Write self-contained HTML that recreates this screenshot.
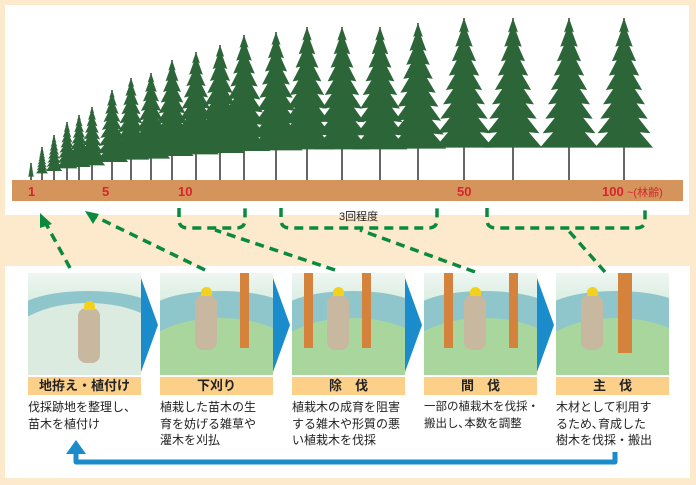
<!DOCTYPE html>
<html><head><meta charset="utf-8"><style>
body{margin:0;width:696px;height:485px;background:#fde9cc;position:relative;overflow:hidden;font-family:"Liberation Sans","Noto Sans CJK JP",sans-serif}
.wp{position:absolute;background:#fff}
.lab{position:absolute;top:377px;height:18px;width:113px;background:#fdd08a;font-weight:bold;font-size:13px;text-align:center;line-height:18px;color:#222}
.txt{position:absolute;top:399px;width:130px;font-size:12px;line-height:16.5px;color:#222;white-space:nowrap}
.pic{position:absolute;top:273px;width:113px;height:102px;background:linear-gradient(#eef6f2 0%,#d6ecde 35%,#a6d49e 100%);overflow:hidden}
.hill{position:absolute;left:-10px;top:18px;width:140px;height:40px;background:#8fc6cc;border-radius:50% 50% 0 0}
.gr{position:absolute;left:-20px;top:45px;width:160px;height:80px;background:#a9d69c;border-radius:50% 50% 0 0}
.tr{position:absolute;top:0;width:9px;height:75px;background:#d4823c}
.man{position:absolute;width:22px;height:55px;background:#c9b8a0;border-radius:8px;top:22px}
.hat{position:absolute;width:11px;height:9px;background:#f2d21c;border-radius:6px 6px 0 0;top:14px}
.chev{position:absolute;top:278px;width:0;height:0;border-top:47px solid transparent;border-bottom:47px solid transparent;border-left:17px solid #1a8ccc}
</style></head><body>
<div class="wp" style="left:5px;top:5px;width:684px;height:210px"></div>
<div class="wp" style="left:5px;top:266px;width:685px;height:212px"></div>
<svg width="696" height="485" style="position:absolute;left:0;top:0">
<g id="trees"></g>
<rect x="12" y="180" width="671" height="21" fill="#d4945c"/>
<g fill="#d6252e" font-weight="bold" font-size="13" font-family="Liberation Sans,sans-serif">
<text x="28" y="196">1</text><text x="102" y="196">5</text><text x="178" y="196">10</text><text x="457" y="196">50</text><text x="602" y="196">100</text>
<text x="627" y="196" font-weight="normal" font-size="11" font-family="Liberation Sans,Noto Sans CJK JP,sans-serif">~(林齢)</text></g>
<text x="339" y="220" font-size="11" fill="#222" font-family="Liberation Sans,Noto Sans CJK JP,sans-serif">3回程度</text>
<g fill="none" stroke="#0a8a3e" stroke-width="3.5" stroke-dasharray="9,6">
<path d="M179 208 V220 Q179 228 188 228 H236 Q245 228 245 220 V208"/>
<path d="M281 208 V220 Q281 228 290 228 H428 Q437 228 437 220 V208"/>
<path d="M487 208 V220 Q487 228 496 228 H636 Q645 228 645 220 V208"/>
<path d="M70 268 L45 222"/><path d="M205 270 L92 215"/><path d="M335 270 L215 230"/><path d="M475 272 L360 230"/><path d="M605 272 L568 230"/>
</g>
<g fill="#0a8a3e"><polygon points="40,213 52,224 40,228"/><polygon points="85,211 99,214 93,224"/></g>
</svg>
<div class="pic" style="left:28px"><div class="hill"></div><div class="gr" style="top:30px;background:#dcebe0"></div><div class="man" style="left:50px;top:35px"></div><div class="hat" style="left:56px;top:28px"></div></div>
<div class="pic" style="left:160px"><div class="hill"></div><div class="gr"></div><div class="tr" style="left:80px"></div><div class="man" style="left:35px"></div><div class="hat" style="left:41px"></div></div>
<div class="pic" style="left:292px"><div class="hill"></div><div class="gr"></div><div class="tr" style="left:12px"></div><div class="tr" style="left:70px"></div><div class="man" style="left:35px"></div><div class="hat" style="left:41px"></div></div>
<div class="pic" style="left:424px"><div class="hill"></div><div class="gr"></div><div class="tr" style="left:20px"></div><div class="tr" style="left:85px"></div><div class="man" style="left:40px"></div><div class="hat" style="left:46px"></div></div>
<div class="pic" style="left:556px"><div class="hill"></div><div class="gr"></div><div class="tr" style="left:62px;width:14px;height:80px"></div><div class="man" style="left:25px"></div><div class="hat" style="left:31px"></div></div>
<div class="chev" style="left:141px"></div><div class="chev" style="left:273px"></div><div class="chev" style="left:405px"></div><div class="chev" style="left:537px"></div>
<div class="lab" style="left:28px">地拵え・植付け</div>
<div class="lab" style="left:160px">下刈り</div>
<div class="lab" style="left:292px">除　伐</div>
<div class="lab" style="left:424px">間　伐</div>
<div class="lab" style="left:556px">主　伐</div>
<div class="txt" style="left:28px">伐採跡地を整理し、<br>苗木を植付け</div>
<div class="txt" style="left:160px">植栽した苗木の生<br>育を妨げる雑草や<br>灌木を刈払</div>
<div class="txt" style="left:292px">植栽木の成育を阻害<br>する雑木や形質の悪<br>い植栽木を伐採</div>
<div class="txt" style="left:424px;font-size:11.5px">一部の植栽木を伐採・<br>搬出し､本数を調整</div>
<div class="txt" style="left:556px">木材として利用す<br>るため､育成した<br>樹木を伐採・搬出</div>
<svg width="696" height="485" style="position:absolute;left:0;top:0">
<path d="M615 452 V462 H76 V452" fill="none" stroke="#1a8ccc" stroke-width="5" stroke-linejoin="round"/>
<polygon points="66,454 86,454 76,440" fill="#1a8ccc"/>
</svg>
<script>
var T=[[31,163],[42,147],[54,135],[67,122],[79,115],[92,107],[112,90],[131,78],[151,73],[172,60],[196,52],[220,45],[244,35],[276,32],[307,27],[342,27],[380,27],[418,23],[464,18],[513,18],[569,18],[624,18]];
var g=document.getElementById('trees'),h='';
T.forEach(function(t){var x=t[0],top=t[1],H=180-top,w=Math.min(H*0.36,58)/2,fb=top+H*0.8,n=9,p=[x+','+top],q=[];
for(var i=1;i<=n;i++){var y=top+(fb-top)*i/n,ww=w*Math.pow(i/n,0.8);p.push((x+ww)+','+y);if(i<n)p.push((x+ww*0.6)+','+(y-1));}
for(var i=n;i>=1;i--){var y=top+(fb-top)*i/n,ww=w*Math.pow(i/n,0.8);if(i<n)q.push((x-ww*0.6)+','+(y-1));q.push((x-ww)+','+y);}
h+='<line x1="'+x+'" y1="'+top+'" x2="'+x+'" y2="180" stroke="#333" stroke-width="1.5"/>';
h+='<polygon points="'+p.join(' ')+' '+q.join(' ')+'" fill="#2c6638"/>';});
g.innerHTML=h;
</script>
</body></html>
